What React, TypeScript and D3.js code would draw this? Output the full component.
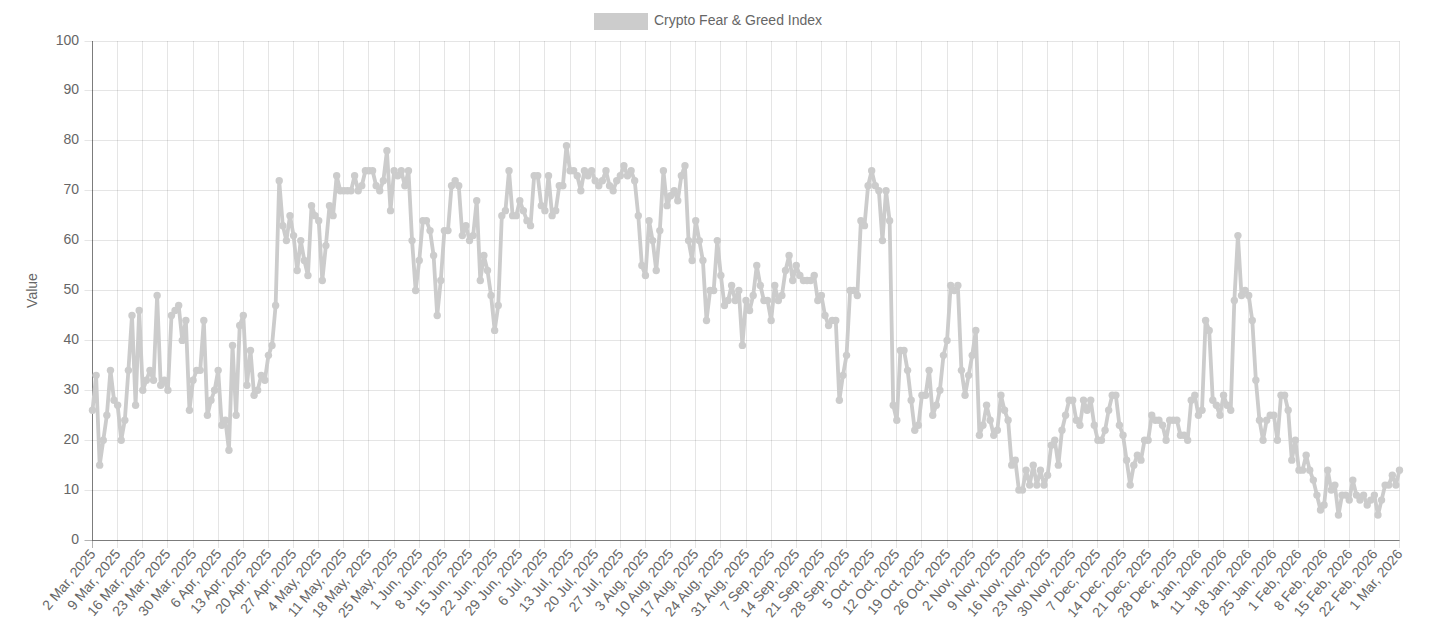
import React from "react";
import * as d3 from "d3";

// Daily Crypto Fear & Greed Index values, 2 Mar 2025 .. 1 Mar 2026
const fearGreedValues: number[] = [
  26, 33, 15, 20, 25, 34, 28, 27, 20, 24, 34, 45, 27, 46, 30, 32, 34, 32, 49, 31, 32, 30, 45, 46, 47, 40, 44, 26, 32, 34, 34, 44, 25, 28, 30, 34,
  23, 24, 18, 39, 25, 43, 45, 31, 38, 29, 30, 33, 32, 37, 39, 47, 72, 63, 60, 65, 61, 54, 60, 56, 53, 67, 65, 64, 52, 59, 67, 65,
  73, 70, 70, 70, 70, 73, 70, 71, 74, 74, 74, 71, 70, 72, 78,
  66, 74, 73, 74, 71, 74, 60, 50, 56, 64, 64, 62, 57, 45, 52, 62, 62, 71, 72, 71, 61, 63, 60, 61, 68, 52,
  57, 54, 49, 42, 47, 65, 66, 74, 65, 65, 68, 66, 64, 63, 73, 73, 67, 66, 73, 65, 66, 71, 71, 79, 74, 74, 73, 70, 74, 73, 74, 72, 71, 72, 74, 71, 70,
  72, 73, 75, 73, 74, 72, 65, 55, 53, 64, 60, 54, 62, 74, 67, 69, 70, 68, 73, 75, 60, 56, 64, 60, 56, 44, 50, 50, 60, 53, 47, 48, 51, 48, 50, 39,
  48, 46, 49, 55, 51, 48, 48, 44, 51, 48, 49, 54, 57, 52, 55, 53, 52, 52, 52, 53, 48, 49, 45, 43, 44, 44, 28, 33, 37, 50, 50, 49, 64, 63, 71,
  74, 71, 70, 60, 70, 64, 27, 24, 38, 38, 34, 28, 22, 23, 29, 29, 34, 25, 27, 30, 37, 40, 51, 50, 51, 34, 29, 33, 37, 42, 21, 23, 27, 24, 21,
  22, 29, 26, 24, 15, 16, 10, 10, 14, 11, 15, 11, 14, 11, 13, 19, 20, 15, 22, 25, 28, 28, 24, 23, 28, 26, 28, 23, 20, 20, 22, 26, 29, 29, 23, 21, 16, 11,
  15, 17, 16, 20, 20, 25, 24, 24, 23, 20, 24, 24, 24, 21, 21, 20, 28, 29, 25, 26, 44, 42, 28, 27, 25, 29, 27, 26, 48, 61, 49, 50, 49, 44, 32, 24, 20,
  24, 25, 25, 20, 29, 29, 26, 16, 20, 14, 14, 17, 14, 12, 9, 6, 7, 14, 10, 11, 5, 9, 9, 8, 12, 9, 8, 9, 7, 8, 9, 5, 8, 11, 11, 13, 11, 14,
];

const startDate = new Date(2025, 2, 2);
const dates: Date[] = fearGreedValues.map((_, i) => d3.timeDay.offset(startDate, i));
const formatTick = d3.timeFormat("%-d %b, %Y");
const tickIndices: number[] = d3.range(0, fearGreedValues.length, 7);
const tickLabels: string[] = tickIndices.map((i) => formatTick(dates[i]));
const yTickValues: number[] = d3.range(0, 101, 10);
const seriesName = "Crypto Fear & Greed Index";
const yAxisTitle = "Value";

const FONT = "'Liberation Sans', Arial, Helvetica, sans-serif";
const TEXT = "#666";
const GRID = "rgba(0,0,0,0.1)";
const AXIS = "rgba(0,0,0,0.3)";
const SERIES = "rgb(204,204,204)";

export default function App() {
  const W = 1430;
  const H = 643;
  const left = 92.5;
  const right = 1399.5;
  const top = 41;
  const bottom = 540;
  const n = fearGreedValues.length;

  const x = d3.scaleLinear().domain([0, n - 1]).range([left, right]);
  const y = d3.scaleLinear().domain([0, 100]).range([bottom, top]);
  const crisp = (v: number) => Math.round(v - 0.5) + 0.5;

  const linePath =
    d3
      .line<number>()
      .x((_, i) => x(i))
      .y((d) => y(d))
      .curve(d3.curveLinear)(fearGreedValues) || "";

  return (
    <svg
      width={W}
      height={H}
      style={{ position: "absolute", left: 0, top: 0, background: "#fff" }}
      fontFamily={FONT}
    >
      {/* legend */}
      <rect x={594} y={13} width={54} height={17} fill={SERIES} />
      <text x={654} y={21.5} fontSize={14} fill={TEXT} dominantBaseline="middle">
        {seriesName}
      </text>

      {/* horizontal gridlines + y ticks */}
      {yTickValues.map((v) => {
        const yy = crisp(y(v));
        return (
          <g key={"y" + v}>
            <line
              x1={left - 8}
              x2={right}
              y1={yy}
              y2={yy}
              stroke={v === 0 ? AXIS : GRID}
              strokeWidth={1}
            />
            <text
              x={79}
              y={yy}
              fontSize={14}
              fill={TEXT}
              textAnchor="end"
              dominantBaseline="middle"
            >
              {v}
            </text>
          </g>
        );
      })}

      {/* vertical gridlines + x ticks */}
      {tickIndices.map((idx, k) => {
        const xx = crisp(x(idx));
        return (
          <g key={"x" + idx}>
            <line
              x1={xx}
              x2={xx}
              y1={top}
              y2={bottom + 8}
              stroke={idx === 0 ? AXIS : GRID}
              strokeWidth={1}
            />
            <text
              transform={`translate(${xx + 1},${bottom + 12}) rotate(-50)`}
              fontSize={14}
              fill={TEXT}
              textAnchor="end"
              dominantBaseline="middle"
            >
              {tickLabels[k]}
            </text>
          </g>
        );
      })}

      {/* axis lines */}
      <line x1={left} x2={left} y1={top} y2={bottom} stroke={AXIS} strokeWidth={1} />
      <line x1={left} x2={right} y1={crisp(y(0))} y2={crisp(y(0))} stroke={AXIS} strokeWidth={1} />

      {/* y axis title */}
      <text
        transform={`translate(33,${(top + bottom) / 2}) rotate(-90)`}
        fontSize={14}
        fill={TEXT}
        textAnchor="middle"
        dominantBaseline="middle"
      >
        {yAxisTitle}
      </text>

      {/* series line */}
      <path d={linePath} fill="none" stroke={SERIES} strokeWidth={3.8} strokeLinejoin="round" />
      {fearGreedValues.map((v, i) => (
        <circle key={i} cx={x(i)} cy={y(v)} r={3.7} fill={SERIES} />
      ))}
    </svg>
  );
}
